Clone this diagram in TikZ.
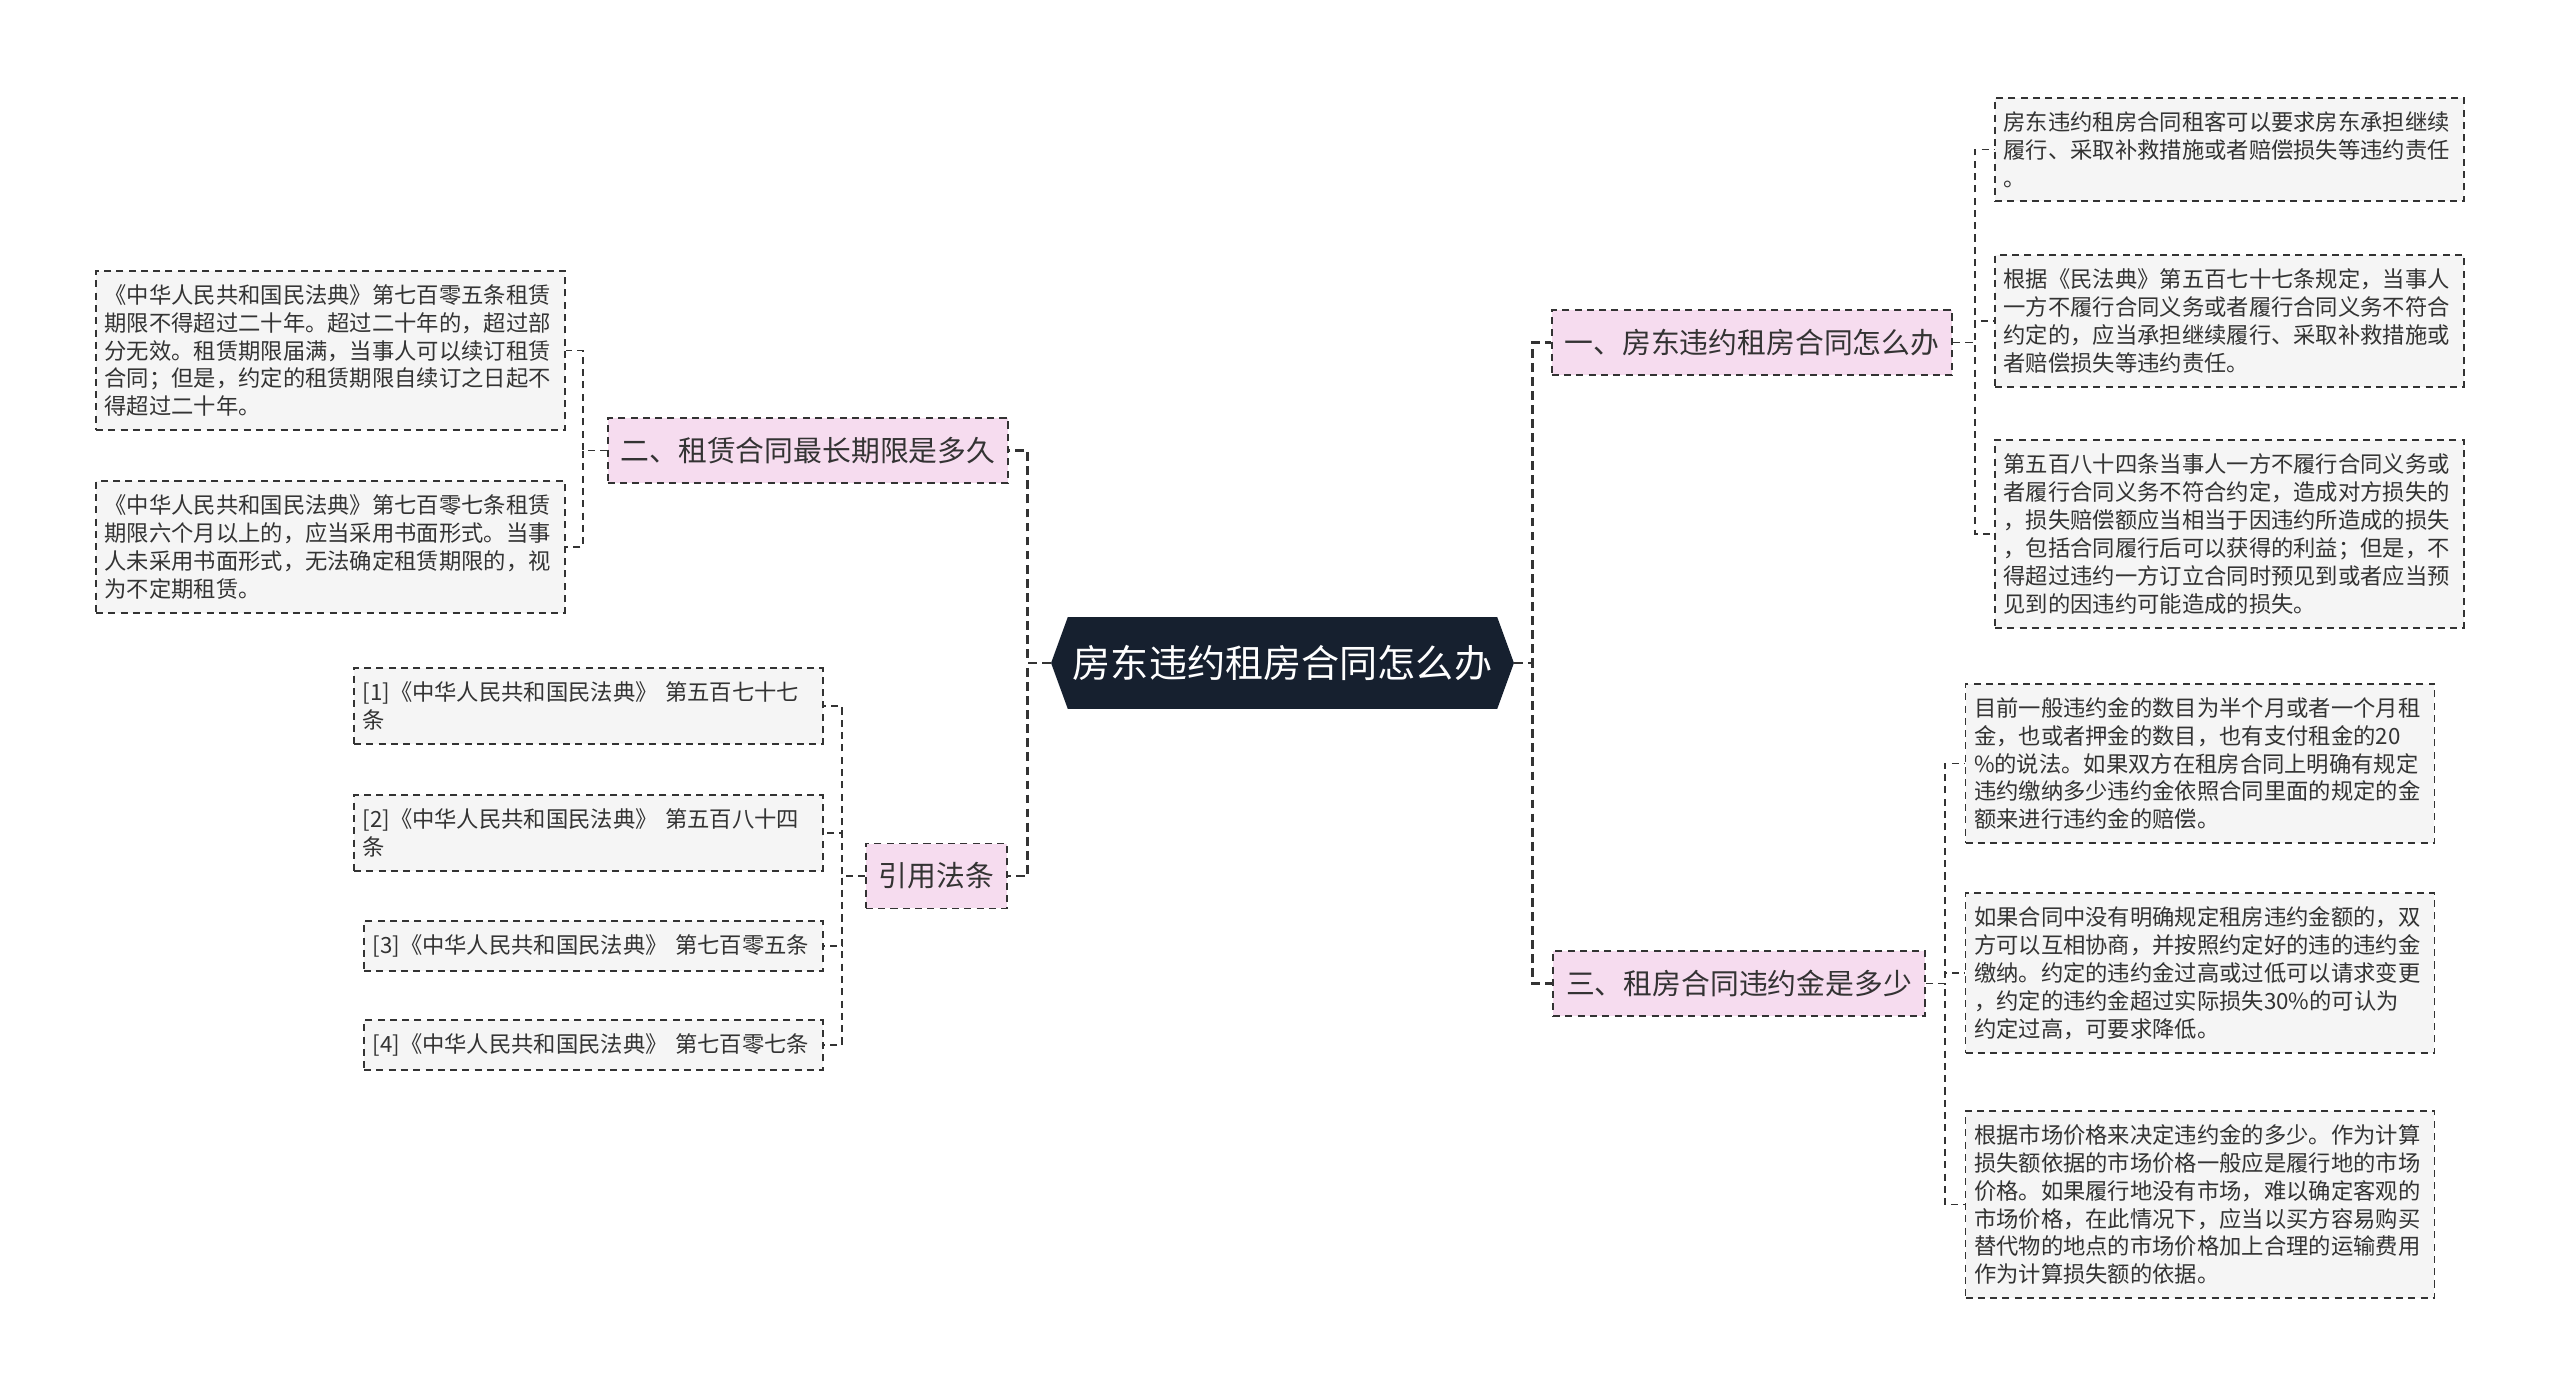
\documentclass[tikz,border=0pt]{standalone}
\usepackage{fontspec}
\setmainfont{Noto Sans CJK SC}
\usepackage{tikz}
\usetikzlibrary{positioning,shapes.symbols}
\definecolor{navy}{HTML}{16202F}
\definecolor{pinkfill}{HTML}{F6DCEF}
\definecolor{leaffill}{HTML}{F5F5F5}
\definecolor{ink}{HTML}{333333}
\tikzset{
    topic/.style = {
        shape=signal,
        signal to=west and east,
        signal pointer angle=140,
        fill=navy,
        text=white,
        inner xsep=0.1cm,
        minimum height=1.84cm,
        font=\fontsize{21.7}{24}\selectfont
    },
    heading/.style = {
        draw=ink,
        dash pattern=on 4pt off 3pt,
        line width=1pt,
        fill=pinkfill,
        text=ink,
        shape=rectangle,
        inner xsep=0.26cm,
        minimum height=1.3cm,
        font=\fontsize{16.4}{19}\selectfont
    },
    leaf/.style = {
        draw=ink,
        dash pattern=on 4pt off 3pt,
        line width=1pt,
        fill=leaffill,
        text=ink,
        shape=rectangle,
        align=left,
        text width=9.04cm,
        inner xsep=0.17cm,
        inner ysep=0.27cm,
        font=\fontsize{12.7}{15.9}\selectfont
    },
    link/.style = {
        draw=ink,
        dash pattern=on 4pt off 3pt,
        line width=1pt
    },
    trunk/.style = {
        draw=ink,
        dash pattern=on 5pt off 3pt,
        line width=1.7pt
    },
}

\begin{document}
\begin{tikzpicture}[x=0.02cm, y=-0.02cm]
    \useasboundingbox (0,0) rectangle (2560,1398);

    \node[topic] (root) at (1282.5, 663) {房东违约租房合同怎么办};

    \node[heading] (one)   at (1752, 342.5) {一、房东违约租房合同怎么办};
    \node[heading] (two)   at (808, 450.5)  {二、租赁合同最长期限是多久};
    \node[heading] (three) at (1739, 983.5) {三、租房合同违约金是多少};
    \node[heading] (cite)  at (936.5, 876)  {引用法条};

    % left: lease term
    \node[leaf] (term1) at (330.5, 350.5) {《中华人民共和国民法典》第七百零五条租赁\\期限不得超过二十年。超过二十年的，超过部\\分无效。租赁期限届满，当事人可以续订租赁\\合同；但是，约定的租赁期限自续订之日起不\\得超过二十年。};
    \node[leaf] (term2) at (330.5, 547) {《中华人民共和国民法典》第七百零七条租赁\\期限六个月以上的，应当采用书面形式。当事\\人未采用书面形式，无法确定租赁期限的，视\\为不定期租赁。};

    % left: cited articles
    \node[leaf] (art1) at (588.5, 706) {[1]《中华人民共和国民法典》 第五百七十七\\条};
    \node[leaf] (art2) at (588.5, 833) {[2]《中华人民共和国民法典》 第五百八十四\\条};
    \node[leaf, text width=8.84cm] (art3) at (593.5, 946)  {[3]《中华人民共和国民法典》 第七百零五条};
    \node[leaf, text width=8.84cm] (art4) at (593.5, 1045) {[4]《中华人民共和国民法典》 第七百零七条};

    % right: what to do
    \node[leaf] (duty1) at (2229.5, 149.5) {房东违约租房合同租客可以要求房东承担继续\\履行、采取补救措施或者赔偿损失等违约责任\\。};
    \node[leaf] (duty2) at (2229.5, 321) {根据《民法典》第五百七十七条规定，当事人\\一方不履行合同义务或者履行合同义务不符合\\约定的，应当承担继续履行、采取补救措施或\\者赔偿损失等违约责任。};
    \node[leaf] (duty3) at (2229.5, 534) {第五百八十四条当事人一方不履行合同义务或\\者履行合同义务不符合约定，造成对方损失的\\，损失赔偿额应当相当于因违约所造成的损失\\，包括合同履行后可以获得的利益；但是，不\\得超过违约一方订立合同时预见到或者应当预\\见到的因违约可能造成的损失。};

    % right: penalty
    \node[leaf] (fee1) at (2200, 763.5) {目前一般违约金的数目为半个月或者一个月租\\金，也或者押金的数目，也有支付租金的20\\\%的说法。如果双方在租房合同上明确有规定\\违约缴纳多少违约金依照合同里面的规定的金\\额来进行违约金的赔偿。};
    \node[leaf] (fee2) at (2200, 973) {如果合同中没有明确规定租房违约金额的，双\\方可以互相协商，并按照约定好的违的违约金\\缴纳。约定的违约金过高或过低可以请求变更\\，约定的违约金超过实际损失30\%的可认为\\约定过高，可要求降低。};
    \node[leaf] (fee3) at (2200, 1204.5) {根据市场价格来决定违约金的多少。作为计算\\损失额依据的市场价格一般应是履行地的市场\\价格。如果履行地没有市场，难以确定客观的\\市场价格，在此情况下，应当以买方容易购买\\替代物的地点的市场价格加上合理的运输费用\\作为计算损失额的依据。};

    \path[trunk] (root.west) -- ++(-23,0) |- (two.east);
    \path[trunk] (root.west) -- ++(-23,0) |- (cite.east);
    \path[trunk] (root.east) -- ++(18,0) |- (one.west);
    \path[trunk] (root.east) -- ++(18,0) |- (three.west);

    \path[link] (two.west) -- ++(-24,0) |- (term1.east);
    \path[link] (two.west) -- ++(-24,0) |- (term2.east);

    \foreach \a in {art1,art2,art3,art4}
        \path[link] (cite.west) -- ++(-23,0) |- (\a.east);

    \foreach \d in {duty1,duty2,duty3}
        \path[link] (one.east) -- ++(22,0) |- (\d.west);

    \foreach \f in {fee1,fee2,fee3}
        \path[link] (three.east) -- ++(19,0) |- (\f.west);
\end{tikzpicture}
\end{document}
